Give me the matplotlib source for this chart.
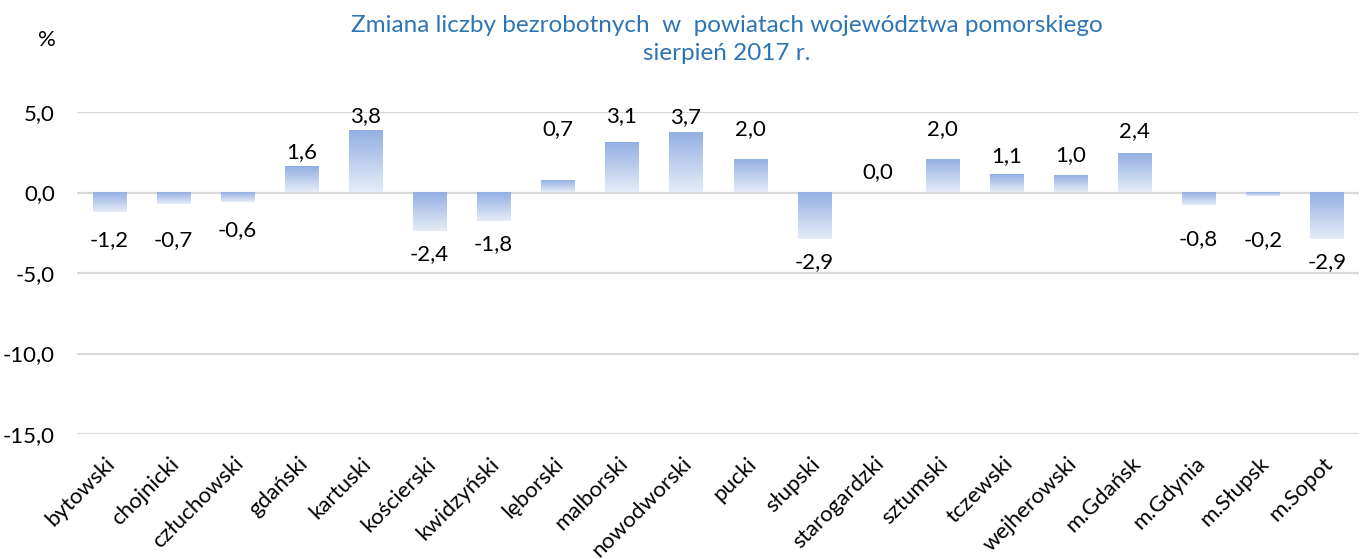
import matplotlib
matplotlib.use('Agg')
import matplotlib.pyplot as plt
import matplotlib.transforms as mtrans
from matplotlib.colors import LinearSegmentedColormap
import numpy as np

categories = ['bytowski', 'chojnicki', 'człuchowski', 'gdański', 'kartuski',
              'kościerski', 'kwidzyński', 'lęborski', 'malborski', 'nowodworski',
              'pucki', 'słupski', 'starogardzki', 'sztumski', 'tczewski',
              'wejherowski', 'm.Gdańsk', 'm.Gdynia', 'm.Słupsk', 'm.Sopot']
values = [-1.2, -0.7, -0.6, 1.6, 3.8, -2.4, -1.8, 0.7, 3.1, 3.7,
          2.0, -2.9, 0.0, 2.0, 1.1, 1.0, 2.4, -0.8, -0.2, -2.9]
yticks = [-15, -10, -5, 0, 5]
title_line1 = 'Zmiana liczby bezrobotnych  w  powiatach województwa pomorskiego'
title_line2 = 'sierpień 2017 r.'

# layout: distance (px) of each value label centre from its bar end
label_gap_px = [28, 36, 28, 15, 15, 23, 23, 52, 26, 16,
                31, 23, 20, 31, 19, 21, 23, 34, 44, 23]

FONT = 'Lato'
W, H = 1370, 559
fig = plt.figure(figsize=(W / 100, H / 100), dpi=100)
ax = fig.add_axes([77 / W, 1 - 434 / H, (1359 - 77) / W, (434 - 112) / H])

x = np.arange(len(categories))
bars = ax.bar(x, values, width=0.515, color='none', edgecolor='none', zorder=2)

cmap = LinearSegmentedColormap.from_list('g', ['#e6ecf8', '#93b0e3'])
grad = np.linspace(0, 1, 128).reshape(-1, 1)
for b in bars:
    h = b.get_height()
    if h == 0:
        continue
    x0, w, y0 = b.get_x(), b.get_width(), b.get_y()
    lo, hi = min(y0, y0 + h), max(y0, y0 + h)
    ax.imshow(grad, extent=[x0, x0 + w, lo, hi], origin='lower', cmap=cmap,
              aspect='auto', zorder=2, interpolation='bilinear')

for xi, v, gap in zip(x, values, label_gap_px):
    off = gap * 72 / 100 * (1 if v >= 0 else -1)
    ax.annotate(f'{v:.1f}'.replace('.', ','), (xi, v), xytext=(0, off),
                textcoords='offset points', ha='center', va='center',
                fontsize=16, family=FONT, color='black', zorder=3)

ax.set_xlim(-0.5, len(categories) - 0.5)
ax.set_ylim(-15, 5)
ax.set_yticks(yticks)
ax.set_yticklabels([f'{t:.1f}'.replace('.', ',') for t in yticks],
                   family=FONT, fontsize=16)
ax.yaxis.grid(True, color='#d9d9d9', linewidth=1.6, zorder=0)
ax.set_axisbelow(True)
ax.tick_params(axis='y', length=0, pad=16)
ax.tick_params(axis='x', length=0, pad=14)
for s in ax.spines.values():
    s.set_visible(False)

ax.set_xticks(x)
ax.set_xticklabels(categories, rotation=45, ha='right', va='top',
                   rotation_mode='anchor', family=FONT, fontsize=16)
dx = mtrans.ScaledTranslation(-4 / 100, 0, fig.dpi_scale_trans)
for lab in ax.get_xticklabels():
    lab.set_transform(lab.get_transform() + dx)

fig.text(727 / W, 1 - 32 / H, title_line1, ha='center', va='baseline',
         fontsize=17.5, family=FONT, color='#2e75b6')
fig.text(727 / W, 1 - 60 / H, title_line2, ha='center', va='baseline',
         fontsize=17.5, family=FONT, color='#2e75b6')
fig.text(47 / W, 1 - 40 / H, '%', ha='center', va='center',
         fontsize=16, family=FONT, color='black')

fig.savefig('out.png', dpi=100, facecolor='white')
